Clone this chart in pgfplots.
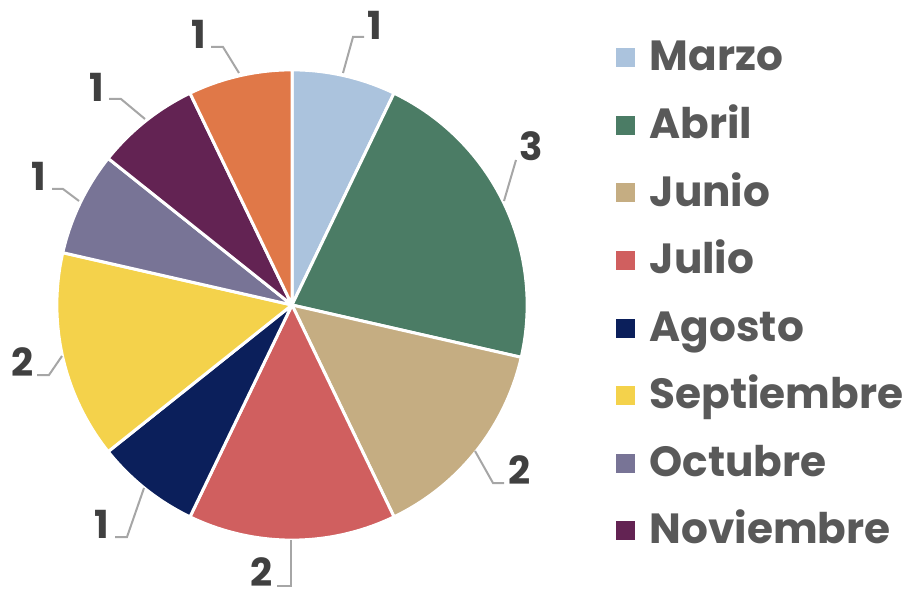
\documentclass[border=0pt]{standalone}
\usepackage{fontspec}
\setmainfont{Poppins}
\usepackage{pgfplots}
\pgfplotsset{compat=1.18}
\definecolor{cMar}{HTML}{ABC3DD}
\definecolor{cAbr}{HTML}{4B7C65}
\definecolor{cJun}{HTML}{C5AD82}
\definecolor{cJul}{HTML}{D05F5F}
\definecolor{cAgo}{HTML}{0B1F5B}
\definecolor{cSep}{HTML}{F4D24B}
\definecolor{cOct}{HTML}{787496}
\definecolor{cNov}{HTML}{632353}
\definecolor{cDic}{HTML}{E07848}
\definecolor{legtxt}{HTML}{595959}
\definecolor{numtxt}{HTML}{404040}
\definecolor{leader}{HTML}{A6A6A6}
% pie data: value / colour (clockwise from 12 o'clock)
\def\piecmds{}
\def\cum{90}
\foreach \v/\c in {1/cMar,3/cAbr,2/cJun,2/cJul,1/cAgo,2/cSep,1/cOct,1/cNov,1/cDic}{
  \pgfmathsetmacro\b{\cum-\v*360/14}
  \xdef\piecmds{\unexpanded\expandafter{\piecmds}\noexpand\fill[\c,draw=white,line width=0.03cm,line join=round] (axis cs:292,305) -- ++(\cum:2.35cm) arc[start angle=\cum,end angle=\b,radius=2.35cm] -- cycle;}
  \xdef\cum{\b}
}
\begin{document}
\begin{tikzpicture}
\begin{axis}[x=0.01cm,y=0.01cm,xmin=0,xmax=915,ymin=0,ymax=591,y dir=reverse,
  hide axis,clip=false]
\path (axis cs:0,0) rectangle (axis cs:915,591);
\piecmds
% leader lines
\begin{scope}[leader,line width=0.02cm]
\draw (axis cs:343,73) -- (axis cs:353,37) -- (axis cs:364,37);
\draw (axis cs:239,73) -- (axis cs:223,47) -- (axis cs:211,47);
\draw (axis cs:504,201) -- (axis cs:516,160);
\draw (axis cs:475,451) -- (axis cs:493,483) -- (axis cs:504,483);
\draw (axis cs:291,540) -- (axis cs:291,586) -- (axis cs:277,586);
\draw (axis cs:144,488) -- (axis cs:127,537) -- (axis cs:115,537);
\draw (axis cs:62,356) -- (axis cs:49,375) -- (axis cs:37,375);
\draw (axis cs:79,201) -- (axis cs:63,189) -- (axis cs:52,189);
\draw (axis cs:145,119) -- (axis cs:121,99) -- (axis cs:109,99);
\end{scope}
% data labels
\begin{scope}[every node/.style={inner sep=0pt,text=numtxt,font=\fontsize{11pt}{12pt}\selectfont\bfseries}]
\node at (axis cs:375,25) {1};
\node at (axis cs:198.5,34) {1};
\node at (axis cs:531,146.5) {3};
\node at (axis cs:520,470.5) {2};
\node at (axis cs:262,572) {2};
\node at (axis cs:102,524.5) {1};
\node at (axis cs:22.5,362) {2};
\node at (axis cs:38.5,176) {1};
\node at (axis cs:96.5,87) {1};
\end{scope}
% legend
\begin{scope}[every node/.style={inner sep=0pt,anchor=base west,text=legtxt,font=\fontsize{12pt}{13pt}\selectfont\bfseries}]
\foreach \c/\t/\y in {cMar/Marzo/58,cAbr/Abril/125.5,cJun/Junio/193,cJul/Julio/260.5,cAgo/Agosto/328,cSep/Septiembre/395.5,cOct/Octubre/463,cNov/Noviembre/530.5}{
  \edef\tmp{\noexpand\fill[\c] (axis cs:616,\y-9.5) rectangle (axis cs:635,\y+9.5);
  \noexpand\node at (axis cs:649,\y+13) {\t};}
  \tmp
}
\end{scope}
\end{axis}
\end{tikzpicture}
\end{document}
